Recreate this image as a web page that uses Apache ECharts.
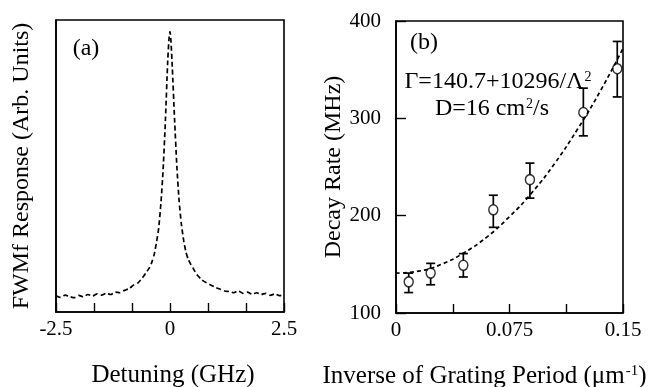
<!DOCTYPE html>
<html>
<head>
<meta charset="utf-8">
<script src="https://cdn.jsdelivr.net/npm/echarts@6/dist/echarts.min.js"></script>
<style>
html,body{margin:0;padding:0;background:#fff;}
#c{width:654px;height:387px;}
</style>
</head>
<body>
<div id="c"></div>
<script>
// Panel (a): FWMf response vs detuning
var detuning = [-2.5,-2.4,-2.3,-2.2,-2.1,-2.0,-1.9,-1.8,-1.7,-1.6,-1.5,-1.4,-1.3,-1.2,-1.1,-1.0,-0.9,-0.8,-0.7,-0.6,-0.5,-0.45,-0.4,-0.35,-0.3,-0.25,-0.2,-0.15,-0.1,-0.05,-0.02,0,0.02,0.05,0.1,0.15,0.2,0.25,0.3,0.35,0.4,0.45,0.5,0.55,0.6,0.7,0.8,0.9,1.0,1.1,1.2,1.3,1.4,1.5,1.6,1.7,1.8,1.9,2.0,2.1,2.2,2.3,2.4,2.5];
var response = [0.056,0.050,0.058,0.053,0.049,0.057,0.052,0.060,0.055,0.062,0.058,0.064,0.060,0.068,0.066,0.074,0.080,0.092,0.100,0.118,0.140,0.152,0.170,0.195,0.235,0.285,0.370,0.490,0.660,0.860,0.940,0.960,0.930,0.840,0.660,0.500,0.380,0.300,0.245,0.205,0.180,0.165,0.152,0.138,0.126,0.110,0.100,0.092,0.084,0.078,0.072,0.070,0.066,0.072,0.064,0.068,0.061,0.066,0.060,0.064,0.057,0.062,0.056,0.059];
var detuningTicks = [-2.5, 0, 2.5];

// Panel (b): decay rate vs inverse grating period
var invPeriod = [0.0084, 0.0229, 0.0445, 0.0643, 0.0885, 0.1238, 0.1462];
var decayRate = [132, 141, 149, 206, 237, 306, 351];
var errLow    = [121, 129, 137, 188, 218, 282, 322];
var errHigh   = [141, 151, 161, 221, 254, 331, 379];
var fitX = [0, 0.015, 0.03, 0.045, 0.06, 0.075, 0.09, 0.105, 0.12, 0.135, 0.15];
var fitY = [141, 143, 150, 162, 178, 199, 224, 254, 289, 328, 372];
var rateTicks = [100, 200, 300, 400];
var periodTicks = [0, 0.075, 0.15];

var FONT = '"Liberation Serif","Times New Roman",serif';
var chart = echarts.init(document.getElementById('c'), null, {renderer:'canvas'});

var curveA = detuning.map(function(x,i){return [x, response[i]];});
var fitData = fitX.map(function(x,i){return [x, fitY[i]];});
var ptData = invPeriod.map(function(x,i){return [x, decayRate[i]];});
var errData = invPeriod.map(function(x,i){return [x, errLow[i], errHigh[i]];});

var option = {
  backgroundColor: '#fff',
  animation: false,
  textStyle: {fontFamily: FONT, color: '#000'},
  grid: [
    {left: 56, top: 20, width: 228, height: 292, show: true, borderColor: '#000', borderWidth: 1.6, containLabel: false, outerBoundsMode: 'none'},
    {left: 396, top: 21, width: 227, height: 292, show: true, borderColor: '#000', borderWidth: 1.6, containLabel: false, outerBoundsMode: 'none'}
  ],
  xAxis: [
    {
      gridIndex: 0, type: 'value', min: detuningTicks[0], max: detuningTicks[2], interval: 2.5,
      axisLine: {show: true, onZero: false, lineStyle: {color: '#000', width: 1.6}},
      axisTick: {show: true, inside: true, length: 9, lineStyle: {color: '#000', width: 1.4}},
      minorTick: {show: true, splitNumber: 3, length: 9, lineStyle: {color: '#000', width: 1.4}},
      splitLine: {show: false},
      axisLabel: {fontFamily: FONT, fontSize: 21, color: '#000', margin: 7},
      name: 'Detuning (GHz)', nameLocation: 'middle', nameGap: 51,
      nameTextStyle: {fontFamily: FONT, fontSize: 25, color: '#000', padding: [0, 0, 0, 6]}
    },
    {
      gridIndex: 1, type: 'value', min: periodTicks[0], max: periodTicks[2], interval: 0.075,
      axisLine: {show: true, onZero: false, lineStyle: {color: '#000', width: 1.6}},
      axisTick: {show: true, inside: true, length: 9, lineStyle: {color: '#000', width: 1.4}},
      minorTick: {show: true, splitNumber: 2, length: 9, lineStyle: {color: '#000', width: 1.4}},
      splitLine: {show: false},
      axisLabel: {fontFamily: FONT, fontSize: 21, color: '#000', margin: 7,
        formatter: function(v){ return String(v); }},
      name: '{a|Inverse of Grating Period (μm}{s|-1}{a|)}', nameLocation: 'middle', nameGap: 51,
      nameTextStyle: {fontFamily: FONT, fontSize: 25, color: '#000', padding: [0, 50, 0, 0],
        rich: {a: {fontFamily: FONT, fontSize: 25, color: '#000'},
               s: {fontFamily: FONT, fontSize: 15, color: '#000', verticalAlign: 'top', padding: [0,0,10,1]}}}
    }
  ],
  yAxis: [
    {
      gridIndex: 0, type: 'value', min: 0, max: 1,
      axisLine: {show: true, onZero: false, lineStyle: {color: '#000', width: 1.6}},
      axisTick: {show: false}, axisLabel: {show: false}, splitLine: {show: false},
      name: 'FWMf Response (Arb. Units)', nameLocation: 'middle', nameGap: 22,
      nameTextStyle: {fontFamily: FONT, fontSize: 24, color: '#000'}
    },
    {
      gridIndex: 1, type: 'value', min: rateTicks[0], max: rateTicks[3], interval: 100,
      axisLine: {show: true, onZero: false, lineStyle: {color: '#000', width: 1.6}},
      axisTick: {show: true, inside: true, length: 10, lineStyle: {color: '#000', width: 1.4}},
      splitLine: {show: false},
      axisLabel: {fontFamily: FONT, fontSize: 21, color: '#000', margin: 15},
      name: 'Decay Rate (MHz)', nameLocation: 'middle', nameGap: 44,
      nameTextStyle: {fontFamily: FONT, fontSize: 24, color: '#000'}
    }
  ],
  series: [
    {
      type: 'line', xAxisIndex: 0, yAxisIndex: 0, data: curveA, showSymbol: false, smooth: 0.2,
      lineStyle: {color: '#000', width: 1.7, type: [5, 3]}
    },
    {
      type: 'line', xAxisIndex: 1, yAxisIndex: 1, data: fitData, showSymbol: false, smooth: true,
      lineStyle: {color: '#000', width: 1.7, type: [4, 3]}
    },
    {
      type: 'custom', xAxisIndex: 1, yAxisIndex: 1, data: errData,
      renderItem: function(params, api){
        var x = api.value(0);
        var lo = api.coord([x, api.value(1)]);
        var hi = api.coord([x, api.value(2)]);
        var c = api.coord([x, decayRate[params.dataIndex]]);
        var hw = 4.5, r = 5;
        var st = {stroke: '#000', lineWidth: 1.7, fill: null};
        return {type: 'group', children: [
          {type: 'line', shape: {x1: hi[0], y1: hi[1], x2: hi[0], y2: c[1]-r}, style: st},
          {type: 'line', shape: {x1: lo[0], y1: c[1]+r, x2: lo[0], y2: lo[1]}, style: st},
          {type: 'line', shape: {x1: hi[0]-hw, y1: hi[1], x2: hi[0]+hw, y2: hi[1]}, style: st},
          {type: 'line', shape: {x1: lo[0]-hw, y1: lo[1], x2: lo[0]+hw, y2: lo[1]}, style: st}
        ]};
      }
    },
    {
      type: 'scatter', xAxisIndex: 1, yAxisIndex: 1, data: ptData, symbol: 'circle', symbolSize: [9, 10],
      itemStyle: {color: 'rgba(0,0,0,0)', borderColor: '#000', borderWidth: 1.5}
    }
  ],
  graphic: [
    {type: 'text', x: 86, y: 49, style: {text: '(a)', font: '24px ' + FONT, fill: '#000', align: 'center', verticalAlign: 'middle'}},
    {type: 'text', x: 424, y: 43, style: {text: '(b)', font: '24px ' + FONT, fill: '#000', align: 'center', verticalAlign: 'middle'}},
    {type: 'text', x: 498, y: 82, style: {
      text: '{a|Γ=140.7+10296/Λ}{s|2}', align: 'center', verticalAlign: 'middle',
      rich: {a: {fontFamily: FONT, fontSize: 24, fill: '#000'}, s: {fontFamily: FONT, fontSize: 14, fill: '#000', verticalAlign: 'top', padding: [0,0,10,1]}}}},
    {type: 'text', x: 492, y: 109, style: {
      text: '{a|D=16 cm}{s|2}{a|/s}', align: 'center', verticalAlign: 'middle',
      rich: {a: {fontFamily: FONT, fontSize: 24, fill: '#000'}, s: {fontFamily: FONT, fontSize: 14, fill: '#000', verticalAlign: 'top', padding: [0,0,10,1]}}}}
  ]
};
chart.setOption(option);
</script>
</body>
</html>
